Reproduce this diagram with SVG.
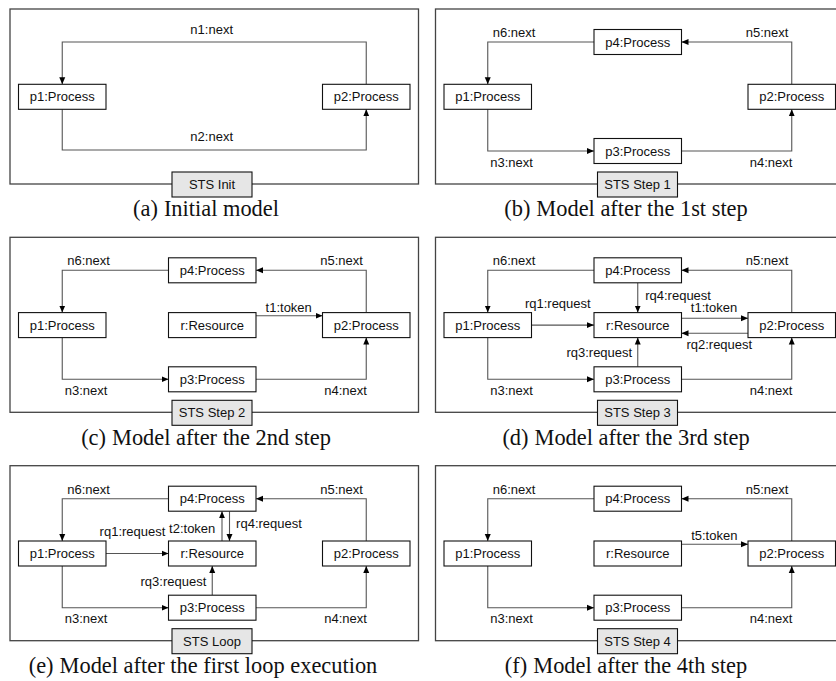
<svg xmlns="http://www.w3.org/2000/svg" width="836" height="681" viewBox="0 0 836 681">
  <style>
    .frame { fill: none; stroke: #444; stroke-width: 1.3; }
    .box { fill: #fff; stroke: #111; stroke-width: 1.1; }
    .tag { fill: #e6e6e6; stroke: #111; stroke-width: 1.1; }
    .lbl { font-family: "Liberation Sans", Arial, sans-serif; font-size: 13px; fill: #111; }
    .mid { text-anchor: middle; }
    .edge { fill: none; stroke: #555; stroke-width: 1.1; marker-end: url(#arr); }
    .cap { font-family: "Liberation Serif", "Times New Roman", serif; font-size: 22.4px; fill: #111; text-anchor: middle; }
  </style>
  <defs>
    <marker id="arr" viewBox="0 0 8 8" refX="8" refY="4" markerWidth="7" markerHeight="7" markerUnits="userSpaceOnUse" orient="auto">
      <path d="M0,0.6 L8,4 L0,7.4 z" fill="#000"/>
    </marker>
  </defs>
  <rect width="836" height="681" fill="#fff"/>

  <!-- (a) initial model -->
  <g id="panel-a" transform="translate(10,9)">
    <rect class="frame" x="0" y="0" width="408.5" height="175"/>
    <g id="a-edges">
      <path class="edge" d="M356.25,75.3 V33 H52.25 V75.3"/>
      <path class="edge" d="M52.25,100.3 V141 H356.25 V100.3"/>
      <text class="lbl mid" x="201.7" y="24.5">n1:next</text>
      <text class="lbl mid" x="201.7" y="132">n2:next</text>
    </g>
    <g id="a-p1"><rect class="box" x="8.5" y="75.3" width="87.5" height="25"/><text class="lbl mid" x="52.25" y="92.3">p1:Process</text></g>
    <g id="a-p2"><rect class="box" x="312.5" y="75.3" width="87.5" height="25"/><text class="lbl mid" x="356.25" y="92.3">p2:Process</text></g>
    <g id="a-tag"><rect class="tag" x="162" y="163" width="80" height="25"/><text class="lbl mid" x="202" y="180">STS Init</text></g>
  </g>
  <text class="cap" x="206" y="216">(a)<tspan dx="6">Initial model</tspan></text>

  <!-- (b) after step 1 -->
  <g id="panel-b" transform="translate(435.5,9)">
    <rect class="frame" x="0" y="0" width="408.5" height="175"/>
    <g id="b-edges">
      <path class="edge" d="M158.5,33 H52.25 V75.3"/>
      <path class="edge" d="M356.25,75.3 V33 H246"/>
      <path class="edge" d="M52.25,100.3 V142 H158.5"/>
      <path class="edge" d="M246,142 H356.25 V100.3"/>
      <text class="lbl mid" x="78.5" y="28">n6:next</text>
      <text class="lbl mid" x="331.5" y="28">n5:next</text>
      <text class="lbl mid" x="76" y="157.5">n3:next</text>
      <text class="lbl mid" x="335.5" y="157.5">n4:next</text>
    </g>
    <g id="b-p4"><rect class="box" x="158.5" y="20.5" width="87.5" height="25"/><text class="lbl mid" x="202.25" y="37.5">p4:Process</text></g>
    <g id="b-p1"><rect class="box" x="8.5" y="75.3" width="87.5" height="25"/><text class="lbl mid" x="52.25" y="92.3">p1:Process</text></g>
    <g id="b-p2"><rect class="box" x="312.5" y="75.3" width="87.5" height="25"/><text class="lbl mid" x="356.25" y="92.3">p2:Process</text></g>
    <g id="b-p3"><rect class="box" x="158.5" y="129.5" width="87.5" height="25"/><text class="lbl mid" x="202.25" y="146.5">p3:Process</text></g>
    <g id="b-tag"><rect class="tag" x="162" y="163" width="80" height="25"/><text class="lbl mid" x="202" y="180">STS Step 1</text></g>
  </g>
  <text class="cap" x="626" y="216">(b)<tspan dx="6">Model after the 1st step</tspan></text>

  <!-- (c) after step 2 -->
  <g id="panel-c" transform="translate(10,237.3)">
    <rect class="frame" x="0" y="0" width="408.5" height="175"/>
    <g id="c-edges">
      <path class="edge" d="M158.5,33 H52.25 V75.3"/>
      <path class="edge" d="M356.25,75.3 V33 H246"/>
      <path class="edge" d="M52.25,100.3 V142 H158.5"/>
      <path class="edge" d="M246,142 H356.25 V100.3"/>
      <path class="edge" d="M246,78.5 H312.5"/>
      <text class="lbl mid" x="78.5" y="28">n6:next</text>
      <text class="lbl mid" x="331.5" y="28">n5:next</text>
      <text class="lbl mid" x="76" y="157.5">n3:next</text>
      <text class="lbl mid" x="335.5" y="157.5">n4:next</text>
      <text class="lbl mid" x="278.7" y="74.5">t1:token</text>
    </g>
    <g id="c-p4"><rect class="box" x="158.5" y="20.5" width="87.5" height="25"/><text class="lbl mid" x="202.25" y="37.5">p4:Process</text></g>
    <g id="c-p1"><rect class="box" x="8.5" y="75.3" width="87.5" height="25"/><text class="lbl mid" x="52.25" y="92.3">p1:Process</text></g>
    <g id="c-r"><rect class="box" x="158.5" y="75.3" width="87.5" height="25"/><text class="lbl mid" x="202.25" y="92.3">r:Resource</text></g>
    <g id="c-p2"><rect class="box" x="312.5" y="75.3" width="87.5" height="25"/><text class="lbl mid" x="356.25" y="92.3">p2:Process</text></g>
    <g id="c-p3"><rect class="box" x="158.5" y="129.5" width="87.5" height="25"/><text class="lbl mid" x="202.25" y="146.5">p3:Process</text></g>
    <g id="c-tag"><rect class="tag" x="162" y="163" width="80" height="25"/><text class="lbl mid" x="202" y="180">STS Step 2</text></g>
  </g>
  <text class="cap" x="206" y="444.5">(c)<tspan dx="6">Model after the 2nd step</tspan></text>

  <!-- (d) after step 3 -->
  <g id="panel-d" transform="translate(435.5,237.3)">
    <rect class="frame" x="0" y="0" width="408.5" height="175"/>
    <g id="d-edges">
      <path class="edge" d="M158.5,33 H52.25 V75.3"/>
      <path class="edge" d="M356.25,75.3 V33 H246"/>
      <path class="edge" d="M52.25,100.3 V142 H158.5"/>
      <path class="edge" d="M246,142 H356.25 V100.3"/>
      <path class="edge" d="M202.25,45.5 V75.3"/>
      <path class="edge" d="M96,87.8 H158.5"/>
      <path class="edge" d="M246,81 H312.5"/>
      <path class="edge" d="M312.5,96 H246"/>
      <path class="edge" d="M202.25,129.5 V100.3"/>
      <text class="lbl mid" x="78.5" y="28">n6:next</text>
      <text class="lbl mid" x="331.5" y="28">n5:next</text>
      <text class="lbl mid" x="76" y="157.5">n3:next</text>
      <text class="lbl mid" x="335.5" y="157.5">n4:next</text>
      <text class="lbl mid" x="242.6" y="63">rq4:request</text>
      <text class="lbl mid" x="122.3" y="70.5">rq1:request</text>
      <text class="lbl mid" x="278.5" y="75">t1:token</text>
      <text class="lbl mid" x="283.8" y="111.5">rq2:request</text>
      <text class="lbl mid" x="163.8" y="119.5">rq3:request</text>
    </g>
    <g id="d-p4"><rect class="box" x="158.5" y="20.5" width="87.5" height="25"/><text class="lbl mid" x="202.25" y="37.5">p4:Process</text></g>
    <g id="d-p1"><rect class="box" x="8.5" y="75.3" width="87.5" height="25"/><text class="lbl mid" x="52.25" y="92.3">p1:Process</text></g>
    <g id="d-r"><rect class="box" x="158.5" y="75.3" width="87.5" height="25"/><text class="lbl mid" x="202.25" y="92.3">r:Resource</text></g>
    <g id="d-p2"><rect class="box" x="312.5" y="75.3" width="87.5" height="25"/><text class="lbl mid" x="356.25" y="92.3">p2:Process</text></g>
    <g id="d-p3"><rect class="box" x="158.5" y="129.5" width="87.5" height="25"/><text class="lbl mid" x="202.25" y="146.5">p3:Process</text></g>
    <g id="d-tag"><rect class="tag" x="162" y="163" width="80" height="25"/><text class="lbl mid" x="202" y="180">STS Step 3</text></g>
  </g>
  <text class="cap" x="626" y="444.5">(d)<tspan dx="6">Model after the 3rd step</tspan></text>

  <!-- (e) after the first loop execution -->
  <g id="panel-e" transform="translate(10,465.7)">
    <rect class="frame" x="0" y="0" width="408.5" height="175"/>
    <g id="e-edges">
      <path class="edge" d="M158.5,33 H52.25 V75.3"/>
      <path class="edge" d="M356.25,75.3 V33 H246"/>
      <path class="edge" d="M52.25,100.3 V142 H158.5"/>
      <path class="edge" d="M246,142 H356.25 V100.3"/>
      <path class="edge" d="M212,75.3 V45.5"/>
      <path class="edge" d="M219.5,45.5 V75.3"/>
      <path class="edge" d="M96,87.8 H158.5"/>
      <path class="edge" d="M202.25,129.5 V100.3"/>
      <text class="lbl mid" x="78.5" y="28">n6:next</text>
      <text class="lbl mid" x="331.5" y="28">n5:next</text>
      <text class="lbl mid" x="76" y="157.5">n3:next</text>
      <text class="lbl mid" x="335.5" y="157.5">n4:next</text>
      <text class="lbl mid" x="182.2" y="67">t2:token</text>
      <text class="lbl mid" x="259" y="62">rq4:request</text>
      <text class="lbl mid" x="122.5" y="70.5">rq1:request</text>
      <text class="lbl mid" x="163.4" y="120.5">rq3:request</text>
    </g>
    <g id="e-p4"><rect class="box" x="158.5" y="20.5" width="87.5" height="25"/><text class="lbl mid" x="202.25" y="37.5">p4:Process</text></g>
    <g id="e-p1"><rect class="box" x="8.5" y="75.3" width="87.5" height="25"/><text class="lbl mid" x="52.25" y="92.3">p1:Process</text></g>
    <g id="e-r"><rect class="box" x="158.5" y="75.3" width="87.5" height="25"/><text class="lbl mid" x="202.25" y="92.3">r:Resource</text></g>
    <g id="e-p2"><rect class="box" x="312.5" y="75.3" width="87.5" height="25"/><text class="lbl mid" x="356.25" y="92.3">p2:Process</text></g>
    <g id="e-p3"><rect class="box" x="158.5" y="129.5" width="87.5" height="25"/><text class="lbl mid" x="202.25" y="146.5">p3:Process</text></g>
    <g id="e-tag"><rect class="tag" x="162" y="163" width="80" height="25"/><text class="lbl mid" x="202" y="180">STS Loop</text></g>
  </g>
  <text class="cap" x="203" y="672.5">(e)<tspan dx="6">Model after the first loop execution</tspan></text>

  <!-- (f) after step 4 -->
  <g id="panel-f" transform="translate(435.5,465.7)">
    <rect class="frame" x="0" y="0" width="408.5" height="175"/>
    <g id="f-edges">
      <path class="edge" d="M158.5,33 H52.25 V75.3"/>
      <path class="edge" d="M356.25,75.3 V33 H246"/>
      <path class="edge" d="M52.25,100.3 V142 H158.5"/>
      <path class="edge" d="M246,142 H356.25 V100.3"/>
      <path class="edge" d="M246,78.5 H312.5"/>
      <text class="lbl mid" x="78.5" y="28">n6:next</text>
      <text class="lbl mid" x="331.5" y="28">n5:next</text>
      <text class="lbl mid" x="76" y="157.5">n3:next</text>
      <text class="lbl mid" x="335.5" y="157.5">n4:next</text>
      <text class="lbl mid" x="278.8" y="74.5">t5:token</text>
    </g>
    <g id="f-p4"><rect class="box" x="158.5" y="20.5" width="87.5" height="25"/><text class="lbl mid" x="202.25" y="37.5">p4:Process</text></g>
    <g id="f-p1"><rect class="box" x="8.5" y="75.3" width="87.5" height="25"/><text class="lbl mid" x="52.25" y="92.3">p1:Process</text></g>
    <g id="f-r"><rect class="box" x="158.5" y="75.3" width="87.5" height="25"/><text class="lbl mid" x="202.25" y="92.3">r:Resource</text></g>
    <g id="f-p2"><rect class="box" x="312.5" y="75.3" width="87.5" height="25"/><text class="lbl mid" x="356.25" y="92.3">p2:Process</text></g>
    <g id="f-p3"><rect class="box" x="158.5" y="129.5" width="87.5" height="25"/><text class="lbl mid" x="202.25" y="146.5">p3:Process</text></g>
    <g id="f-tag"><rect class="tag" x="162" y="163" width="80" height="25"/><text class="lbl mid" x="202" y="180">STS Step 4</text></g>
  </g>
  <text class="cap" x="626" y="672.5">(f)<tspan dx="6">Model after the 4th step</tspan></text>
</svg>
